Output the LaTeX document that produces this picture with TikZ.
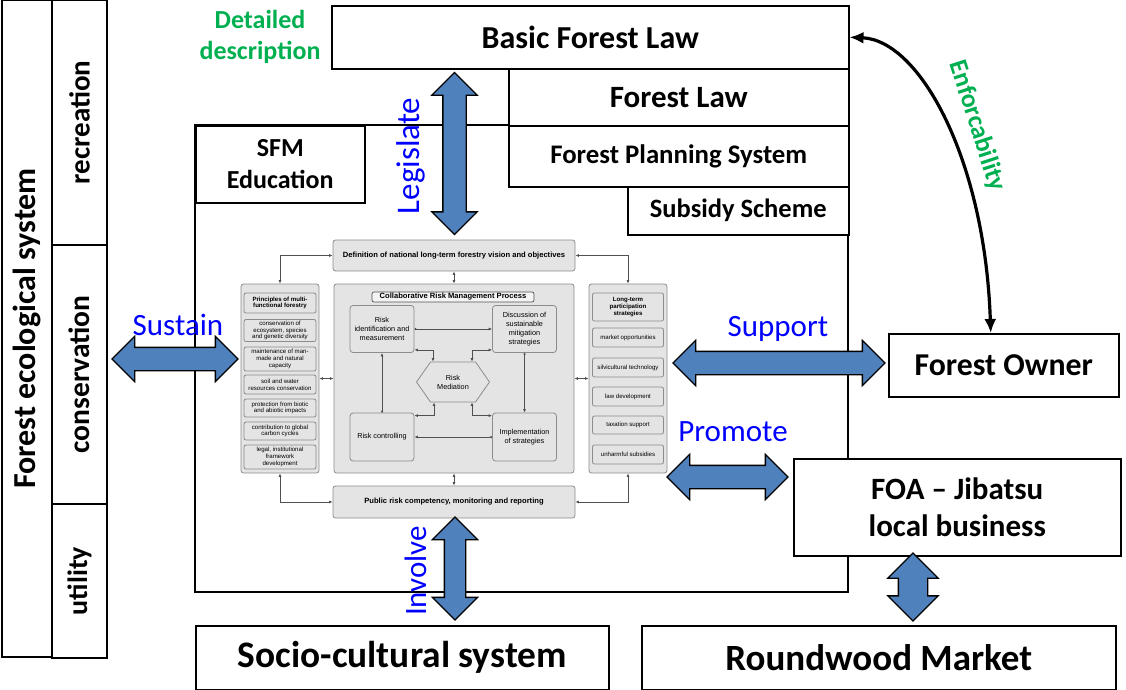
\documentclass[tikz,border=0pt]{standalone}
\usepackage{fontspec}
\setmainfont{Carlito}
\newfontfamily\arialfont{Liberation Sans}
\usetikzlibrary{positioning,shapes.arrows,shapes.symbols,arrows.meta,calc}
\definecolor{arrowblue}{HTML}{4F81BD}
\definecolor{lawgreen}{HTML}{00B050}
\definecolor{panelgray}{HTML}{E4E4E4}
\definecolor{linegray}{HTML}{8C8C8C}
\definecolor{wiregray}{HTML}{505050}
\newcommand\fsz[2]{\fontsize{#1}{#2}\selectfont}
\tikzset{
  box/.style={draw, line width=1.5pt, fill=white, inner sep=0pt, align=center},
  bigarrow/.style={double arrow, draw, line width=1.3pt, fill=arrowblue, inner xsep=0pt,
    inner ysep=11pt, minimum width=44pt, double arrow head extend=11pt},
  verb/.style={text=blue, font=\fsz{31}{34}},
  panel/.style={draw=linegray, fill=panelgray, rounded corners=2.5pt, line width=0.8pt},
  item/.style={draw=linegray, fill=panelgray, rounded corners=2pt, line width=0.8pt,
    align=center, inner sep=0pt, font=\arialfont\fsz{6.1}{6.8}},
  stepbox/.style={draw=linegray, fill=panelgray, rounded corners=3pt, line width=0.8pt,
    align=center, inner sep=0pt, font=\arialfont\fsz{7.3}{8.8}, minimum width=64pt},
  wire/.style={wiregray, line width=0.7pt, {Latex[length=3.5pt,width=3pt]}-{Latex[length=3.5pt,width=3pt]}},
  flow/.style={wiregray, line width=0.7pt, {Circle[length=2.2pt]}-{Latex[length=3.5pt,width=3pt]}}
}
\begin{document}
\begin{tikzpicture}[x=1pt,y=-1pt]
\useasboundingbox (0,0) rectangle (1126,689);

% left column
\node[box, rotate=90, minimum width=657pt, minimum height=50pt, font=\bfseries\fsz{32}{36}] (fes) at (27,328.5) {Forest ecological system};
\node[box, rotate=90, minimum width=245pt, minimum height=55pt, font=\bfseries\fsz{29}{32}] (rec) at (79.5,122.5) {recreation};
\node[box, rotate=90, minimum width=259pt, minimum height=55pt, font=\bfseries\fsz{29.5}{32}] (cons) at (79.5,374.5) {conservation};
\node[box, rotate=90, minimum width=154pt, minimum height=55pt, font=\bfseries\fsz{28}{32}] (util) at (79.5,581) {utility};

% frame
\draw[line width=1.5pt] (195,125) rectangle (848,592);

% laws
\node[box, anchor=north west, minimum width=517pt, minimum height=63pt, font=\bfseries\fsz{32}{36}] (bfl) at (331,5) {Basic Forest Law};
\node[box, anchor=north west, minimum width=340pt, minimum height=57pt, font=\bfseries\fsz{31}{36}] (fl) at (508,68) {Forest Law};
\node[box, anchor=north west, minimum width=340pt, minimum height=61pt, font=\bfseries\fsz{26.8}{30}] (fps) at (508,125) {Forest Planning System};
\node[box, anchor=north west, minimum width=221pt, minimum height=48pt, font=\bfseries\fsz{26.5}{30}] (subs) at (627,186) {Subsidy Scheme};
\node[box, anchor=north west, minimum width=169pt, minimum height=77pt, font=\bfseries\fsz{26}{32}] (sfm) at (195,125) {SFM\\Education};
\node[text=lawgreen, align=center, font=\bfseries\fsz{26}{31}] (detail) at (260,37) {Detailed\\description};

% actors
\node[box, anchor=north west, minimum width=230pt, minimum height=63pt, font=\bfseries\fsz{31.8}{36}] (fo) at (888,333) {Forest Owner};
\node[box, anchor=north west, minimum width=327pt, minimum height=97pt, font=\bfseries\fsz{31}{37}] (foa) at (793,458) {FOA -- Jibatsu\\local business};
\node[box, anchor=north west, minimum width=413pt, minimum height=64pt, font=\bfseries\fsz{37.4}{40}] (socio) at (195,625) {Socio-cultural system};
\node[box, anchor=north west, minimum width=474pt, minimum height=64pt, font=\bfseries\fsz{37}{40}] (rwm) at (641,625) {Roundwood Market};

% risk management figure
\node[panel, minimum width=242pt, minimum height=31pt, font=\arialfont\bfseries\fsz{7.6}{8.5}] (def) at (454,255.5) {Definition of national long-term forestry vision and objectives};
\node[panel, minimum width=78pt, minimum height=189pt] (lpan) at (280,378.5) {};
\node[panel, minimum width=240pt, minimum height=189pt] (cpan) at (454,378.5) {};
\node[panel, minimum width=78pt, minimum height=189pt] (rpan) at (628,378.5) {};
\node[panel, minimum width=242pt, minimum height=32pt, font=\arialfont\bfseries\fsz{7.6}{8.5}] (pub) at (454,502) {Public risk competency, monitoring and reporting};

\node[item, minimum width=72pt, minimum height=20pt, font=\arialfont\bfseries\fsz{6.1}{6.8}] (lp0) at (280,303) {Principles of multi-\\functional forestry};
\node[item, minimum width=72pt, minimum height=22pt] (lp1) at (280,330.5) {conservation of\\ecosystem, species\\and genetic diversity};
\node[item, minimum width=72pt, minimum height=24pt] (lp2) at (280,359) {maintenance of man-\\made and natural\\capacity};
\node[item, minimum width=72pt, minimum height=19pt] (lp3) at (280,384.5) {soil and water\\resources conservation};
\node[item, minimum width=72pt, minimum height=18pt] (lp4) at (280,408) {protection from biotic\\and abiotic impacts};
\node[item, minimum width=72pt, minimum height=18pt] (lp5) at (280,431) {contribution to global\\carbon cycles};
\node[item, minimum width=72pt, minimum height=24pt] (lp6) at (280,457) {legal, institutional\\framework\\development};

\node[item, minimum width=71pt, minimum height=28pt, font=\arialfont\bfseries\fsz{6.1}{6.8}] (rp0) at (628,307) {Long-term\\participation\\strategies};
\node[item, minimum width=71pt, minimum height=19pt] (rp1) at (628,337.5) {market opportunities};
\node[item, minimum width=71pt, minimum height=19pt] (rp2) at (628,367.5) {silvicultural technology};
\node[item, minimum width=71pt, minimum height=19pt] (rp3) at (628,396.5) {law development};
\node[item, minimum width=71pt, minimum height=18pt] (rp4) at (628,425) {taxation support};
\node[item, minimum width=71pt, minimum height=19pt] (rp5) at (628,454.5) {unharmful subsidies};

\node[draw=wiregray, fill=panelgray!40, rounded corners=2pt, line width=0.7pt, minimum width=162pt, minimum height=10pt, inner sep=0pt, font=\arialfont\bfseries\fsz{7.6}{8.5}] (crm) at (453,297) {Collaborative Risk Management Process};
\node[stepbox, minimum height=47pt] (rid) at (382,329) {Risk\\identification and\\measurement};
\node[stepbox, minimum height=47pt] (disc) at (524.5,329) {Discussion of\\sustainable\\mitigation\\strategies};
\node[stepbox, minimum height=48pt] (rctl) at (382,437) {Risk controlling};
\node[stepbox, minimum height=48pt] (impl) at (524.5,437) {Implementation\\of strategies};
\node[signal, signal to=west and east, signal pointer angle=110, draw=linegray, fill=panelgray, line width=0.8pt, minimum width=73pt, minimum height=40pt, inner sep=0pt, align=center, font=\arialfont\fsz{7.3}{8.8}] (med) at (453,382) {Risk\\Mediation};

\draw[flow] (rid.east) -- (disc.west);
\draw[flow] (disc.south) -- (impl.north);
\draw[flow] (impl.west) -- (rctl.east);
\draw[flow] (rctl.north) -- (rid.south);
\draw[wire] ([yshift=3pt]rid.south east) -| ([xshift=-20pt]med.north);
\draw[wire] ([yshift=3pt]disc.south west) -| ([xshift=19pt]med.north);
\draw[wire] ([yshift=-3pt]rctl.north east) -| ([xshift=-19pt]med.south);
\draw[wire] ([yshift=-3pt]impl.north west) -| ([xshift=19pt]med.south);

\draw[wire] (def.west) -| (lpan.north);
\draw[wire] (def.east) -| (rpan.north);
\draw[wire] (def.south) -- (cpan.north);
\draw[wire] (lpan.east) -- (cpan.west);
\draw[wire] (rpan.west) -- (cpan.east);
\draw[wire] (cpan.south) -- (pub.north);
\draw[wire] (lpan.south) |- (pub.west);
\draw[wire] (rpan.south) |- (pub.east);

% block arrows
\node[bigarrow, minimum height=126pt] (sustain) at (175,359) {};
\node[bigarrow, rotate=90, minimum height=162pt] (legis) at (454.5,153.5) {};
\node[bigarrow, minimum height=212pt] (supp) at (779,363) {};
\node[bigarrow, minimum height=121pt] (prom) at (727.5,477) {};
\node[bigarrow, rotate=90, minimum height=103pt, inner ysep=10pt, double arrow head extend=12pt] (invol) at (455,568.5) {};
\node[bigarrow, rotate=90, minimum height=68pt, inner ysep=14pt, minimum width=49pt, double arrow head extend=10.5pt] (mkt) at (913,587) {};

\node[verb] (lsust) at (178,325) {Sustain};
\node[verb, rotate=90, font=\fsz{33}{36}] (llegis) at (411,156) {Legislate};
\node[verb] (lsupp) at (778,329) {Support};
\node[verb] (lprom) at (733,432) {Promote};
\node[verb, rotate=90] (linvol) at (416,571) {Involve};

% enforcability
\draw[line width=3.2pt, {Latex[length=14pt,width=12pt]}-{Latex[length=14pt,width=12pt]}]
  (bfl.east) .. controls (920,40) and (985,160) .. ([xshift=-13pt]fo.north);
\node[text=lawgreen, rotate=-72, font=\bfseries\fsz{26}{30}] (lenf) at (977,126) {Enforcability};
\end{tikzpicture}
\end{document}
